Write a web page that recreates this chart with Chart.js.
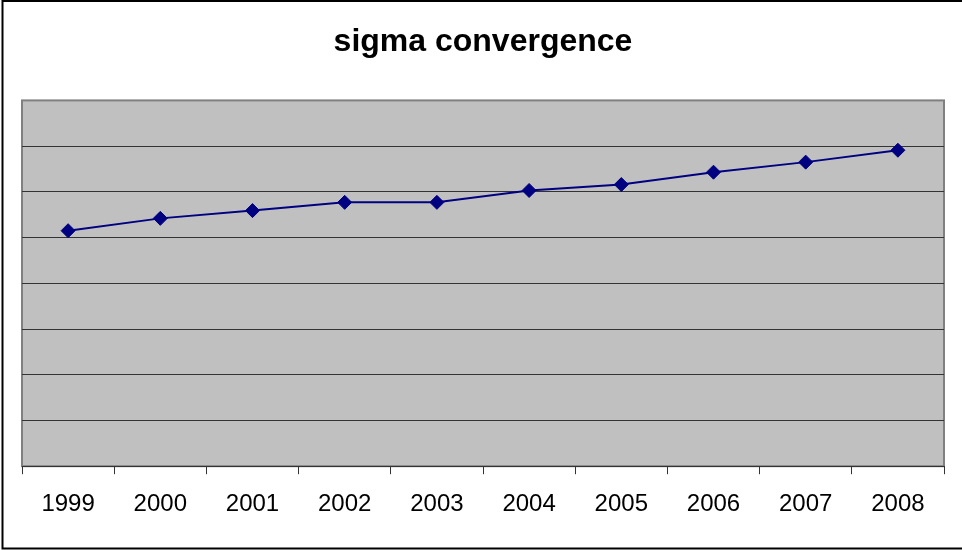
<!DOCTYPE html>
<html>
<head>
<meta charset="utf-8">
<script src="https://cdn.jsdelivr.net/npm/chart.js@4"></script>
<style>
  html, body { margin: 0; padding: 0; background: #fff; }
  #wrap { width: 962px; height: 550px; position: relative; }
</style>
</head>
<body>
<div id="wrap"><canvas id="chart"></canvas></div>
<script>
// years on the x axis
const years = ["1999", "2000", "2001", "2002", "2003", "2004", "2005", "2006", "2007", "2008"];
// sigma values (axis has no labels, scale 0 - 0.8)
const sigma = [0.515, 0.542, 0.559, 0.577, 0.577, 0.603, 0.616, 0.643, 0.665, 0.691];
const yMin = 0;
const yMax = 0.8;
const yStep = 0.1;

// grey plot area + outer frame
const frame = {
  id: "frame",
  beforeDraw(chart) {
    const { ctx, chartArea: a } = chart;
    ctx.save();
    ctx.strokeStyle = "#000";
    ctx.lineWidth = 2;
    ctx.strokeRect(2.5, 1, 980, 547.5);
    ctx.fillStyle = "#c0c0c0";
    ctx.fillRect(a.left, a.top, a.right - a.left, a.bottom - a.top);
    ctx.strokeStyle = "#808080";
    ctx.lineWidth = 2;
    ctx.strokeRect(a.left, a.top, a.right - a.left, a.bottom - a.top);
    ctx.restore();
  }
};

new Chart(document.getElementById("chart"), {
  type: "line",
  data: {
    labels: years,
    datasets: [{
      label: "sigma",
      data: sigma,
      borderColor: "#000080",
      backgroundColor: "#000080",
      borderWidth: 2,
      pointStyle: "rectRot",
      pointRadius: 7,
      pointBorderWidth: 1,
      pointBorderColor: "#000080",
      tension: 0,
    }]
  },
  options: {
    responsive: true,
    maintainAspectRatio: false,
    animation: false,
    layout: { padding: { left: 22, right: 18, top: 0, bottom: 15 } },
    plugins: {
      legend: { display: false },
      tooltip: { enabled: false },
      title: {
        display: true,
        text: "sigma convergence",
        color: "#000",
        font: { family: "'Liberation Sans', Arial, sans-serif", size: 32, weight: "bold" },
        padding: { top: 23, bottom: 39 },
      },
    },
    scales: {
      x: {
        offset: true,
        grid: {
          offset: true,
          drawOnChartArea: false,
          drawTicks: true,
          tickLength: 8,
          color: "#333",
        },
        border: { display: true, color: "#333", width: 1 },
        ticks: {
          color: "#000",
          padding: 16,
          maxRotation: 0,
          font: { family: "'Liberation Sans', Arial, sans-serif", size: 24 },
        },
      },
      y: {
        min: yMin,
        max: yMax,
        border: { display: false },
        grid: {
          drawTicks: false,
          color: (c) => (c.tick && c.tick.value >= yMax ? "rgba(0,0,0,0)" : "#333"),
          lineWidth: 1,
        },
        ticks: { display: false, stepSize: yStep },
      },
    },
  },
  plugins: [frame],
});
</script>
</body>
</html>
